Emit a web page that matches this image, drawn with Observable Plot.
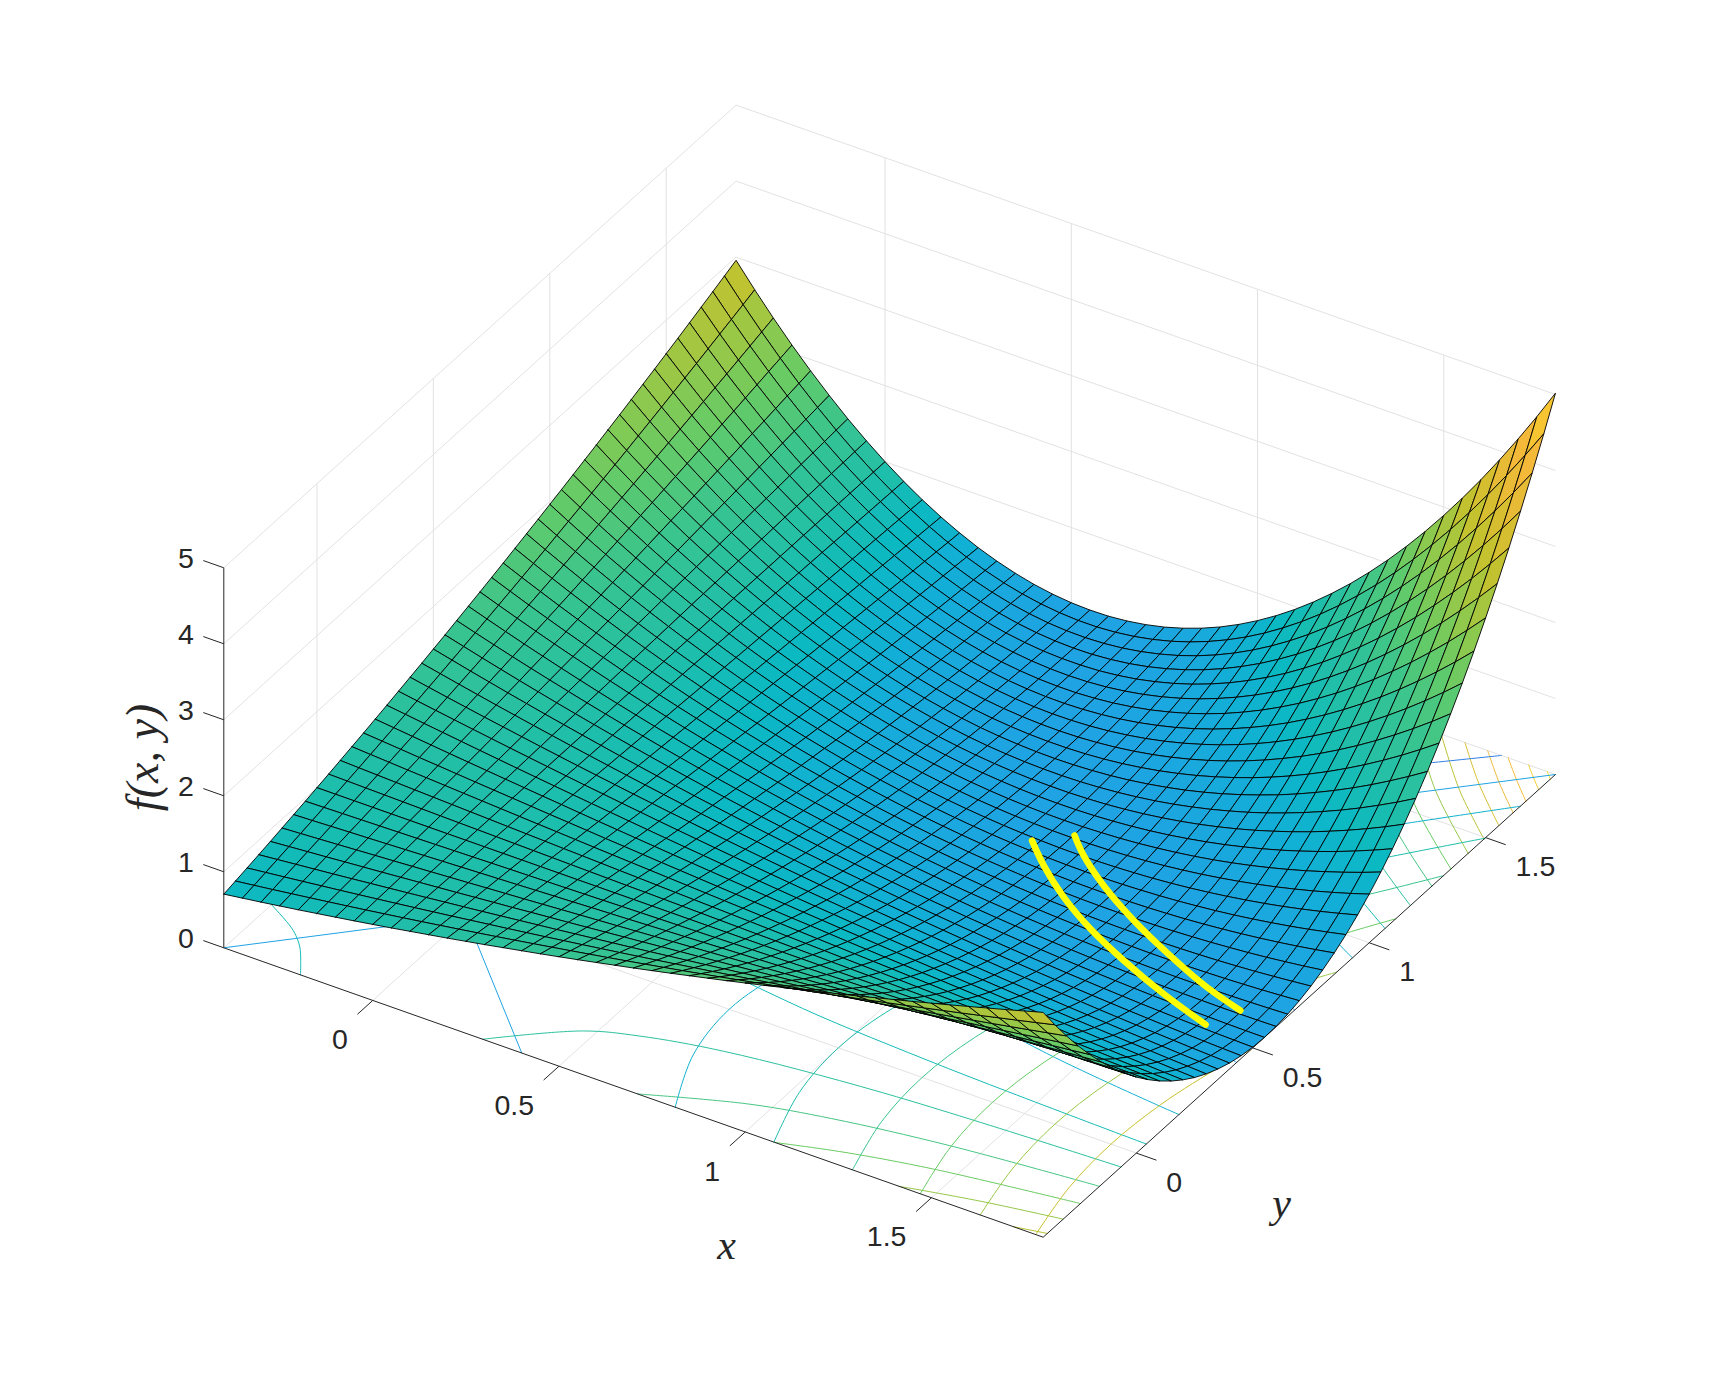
<!DOCTYPE html>
<html>
<head>
<meta charset="utf-8">
<script src="https://cdn.jsdelivr.net/npm/d3@7"></script>
<script src="https://cdn.jsdelivr.net/npm/@observablehq/plot@0.6"></script>
<style>
html,body{margin:0;padding:0;background:#fff}
svg{display:block}
</style>
</head>
<body>
<div id="chart"></div>
<script>
// The drawn surface was identified from the picture as f(x,y) = (1 - x*y)^2, x,y in [-0.4,1.8].
// Its node heights are typed below as a table worked out by hand, not computed at run time.
// Known difference: this table has a 0.05 step; the reference mesh is about twice as fine (about 0.025).
const gridValues = [-0.4,-0.35,-0.3,-0.25,-0.2,-0.15,-0.1,-0.05,0,0.05,0.1,0.15,0.2,0.25,0.3,0.35,0.4,0.45,0.5,0.55,0.6,0.65,0.7,0.75,0.8,0.85,0.9,0.95,1,1.05,1.1,1.15,1.2,1.25,1.3,1.35,1.4,1.45,1.5,1.55,1.6,1.65,1.7,1.75,1.8];
// f in thousandths; row i holds nodes j >= i, the table being symmetric in x and y
const surfaceRows = [
[706,740,774,810,846,884,922,960,1000,1040,1082,1124,1166,1210,1254,1300,1346,1392,1440,1488,1538,1588,1638,1690,1742,1796,1850,1904,1960,2016,2074,2132,2190,2250,2310,2372,2434,2496,2560,2624,2690,2756,2822,2890,2958],
[770,801,833,865,898,931,965,1000,1035,1071,1108,1145,1183,1221,1260,1300,1340,1381,1422,1464,1507,1550,1594,1638,1684,1729,1776,1823,1870,1918,1967,2016,2066,2117,2168,2220,2273,2326,2379,2434,2489,2544,2600,2657],
[828,856,884,912,941,970,1000,1030,1061,1092,1124,1156,1188,1221,1254,1288,1322,1357,1392,1428,1464,1501,1538,1575,1613,1651,1690,1729,1769,1809,1850,1891,1932,1974,2016,2059,2102,2146,2190,2235,2280,2326,2372],
[879,902,926,951,975,1000,1025,1051,1076,1102,1129,1156,1183,1210,1238,1266,1294,1322,1351,1381,1410,1440,1470,1501,1531,1562,1594,1626,1658,1690,1723,1756,1789,1822,1856,1891,1925,1960,1995,2031,2066,2102],
[922,941,960,980,1000,1020,1040,1061,1082,1102,1124,1145,1166,1188,1210,1232,1254,1277,1300,1322,1346,1369,1392,1416,1440,1464,1488,1513,1538,1562,1588,1613,1638,1664,1690,1716,1742,1769,1796,1822,1850],
[956,970,985,1000,1015,1030,1046,1061,1076,1092,1108,1124,1140,1156,1172,1188,1205,1221,1238,1254,1271,1288,1305,1322,1340,1357,1375,1392,1410,1428,1446,1464,1482,1501,1519,1538,1556,1575,1594,1613],
[980,990,1000,1010,1020,1030,1040,1051,1061,1071,1082,1092,1102,1113,1124,1134,1145,1156,1166,1177,1188,1199,1210,1221,1232,1243,1254,1266,1277,1288,1300,1311,1322,1334,1346,1357,1369,1381,1392],
[995,1000,1005,1010,1015,1020,1025,1030,1035,1040,1046,1051,1056,1061,1066,1071,1076,1082,1087,1092,1097,1102,1108,1113,1118,1124,1129,1134,1140,1145,1151,1156,1161,1166,1172,1177,1183,1188],
[1000,1000,1000,1000,1000,1000,1000,1000,1000,1000,1000,1000,1000,1000,1000,1000,1000,1000,1000,1000,1000,1000,1000,1000,1000,1000,1000,1000,1000,1000,1000,1000,1000,1000,1000,1000,1000],
[995,990,985,980,975,970,965,960,956,951,946,941,936,931,926,922,917,912,907,902,898,893,888,884,879,874,870,865,861,856,851,846,842,837,833,828],
[980,970,960,951,941,931,922,912,902,893,884,874,865,856,846,837,828,819,810,801,792,783,774,766,757,748,740,731,722,714,706,697,689,681,672],
[956,941,926,912,898,884,870,856,842,828,815,801,788,774,761,748,735,722,710,697,685,672,660,648,636,624,612,601,589,578,566,555,544,533],
[922,902,884,865,846,828,810,792,774,757,740,722,706,689,672,656,640,624,608,593,578,562,548,533,518,504,490,476,462,449,436,422,410],
[879,856,833,810,788,766,744,722,701,681,660,640,620,601,581,562,544,526,508,490,473,456,439,422,406,391,375,360,345,331,316,302],
[828,801,774,748,722,697,672,648,624,601,578,555,533,511,490,469,449,429,410,391,372,354,336,319,302,286,270,255,240,226,212],
[770,740,710,681,652,624,597,570,544,518,494,469,446,422,400,378,357,336,316,297,278,260,243,226,209,194,179,164,150,137],
[706,672,640,608,578,548,518,490,462,436,410,384,360,336,314,292,270,250,230,212,194,176,160,144,130,116,102,90,78],
[636,601,566,533,501,469,439,410,381,354,328,302,278,255,233,212,191,172,154,137,121,106,92,78,66,55,45,36],
[562,526,490,456,422,391,360,331,302,276,250,226,202,181,160,141,122,106,90,76,62,51,40,31,22,16,10],
[487,449,413,378,345,314,284,255,228,202,179,156,135,116,98,81,66,53,41,31,22,14,9,4,1,0],
[410,372,336,302,270,240,212,185,160,137,116,96,78,62,48,36,26,17,10,5,2,0,0,2,6],
[334,297,263,230,200,172,146,122,101,81,64,48,35,24,15,8,3,1,0,2,5,11,19,29],
[260,226,194,164,137,112,90,70,53,38,26,16,8,3,0,0,2,7,14,24,36,51,68],
[191,160,131,106,83,62,45,31,19,10,4,1,0,2,8,16,26,40,56,76,98,122],
[130,102,78,58,40,26,14,6,2,0,2,6,14,26,40,58,78,102,130,160,194],
[77,55,37,22,12,4,1,0,4,11,22,36,54,76,101,130,162,198,238,281],
[36,21,10,3,0,1,6,16,29,46,68,93,122,156,194,235,281,331,384],
[10,2,0,2,9,20,35,55,80,109,143,181,223,270,322,378,439,504],
[0,2,10,22,40,62,90,122,160,202,250,302,360,422,490,562,640],
[11,24,43,68,98,133,174,221,273,331,394,462,537,616,701,792],
[44,70,102,141,185,235,292,354,422,497,578,664,757,856,960],
[104,144,191,245,305,372,446,526,612,706,806,912,1025,1145],
[194,250,314,384,462,548,640,740,846,960,1082,1210,1346],
[316,391,473,562,660,766,879,1000,1129,1266,1410,1562],
[476,570,672,783,902,1030,1166,1311,1464,1626,1796],
[677,792,917,1051,1194,1346,1507,1677,1856,2045],
[922,1061,1210,1369,1538,1716,1904,2102,2310],
[1216,1381,1556,1742,1939,2146,2364,2592],
[1562,1756,1960,2176,2402,2641,2890],
[1967,2190,2426,2673,2933,3204],
[2434,2690,2958,3240,3534],
[2967,3258,3563,3881],
[3572,3901,4244],
[4254,4622],
[5018]
];

const xTicks = [0, 0.5, 1, 1.5];
const yTicks = [0, 0.5, 1, 1.5];
const zTicks = [0, 1, 2, 3, 4, 5];
const xLimits = [-0.4, 1.8];
const yLimits = [-0.4, 1.8];

// floor contours: [level, [x,y], [x,y], ...]
const contoursOfProduct = [
[0.85,[-0.194,-0.4],[-0.25,-0.312],[-0.279,-0.279],[-0.312,-0.25],[-0.4,-0.195]],
[1.25,[0.295,-0.4],[0.472,-0.25],[0.59,-0.2],[0.787,-0.15],[1.18,-0.1],[1.8,-0.066]],
[1.65,[0.711,-0.4],[0.948,-0.3],[1.138,-0.25],[1.423,-0.2],[1.8,-0.158]],
[2.05,[1.08,-0.4],[1.234,-0.35],[1.44,-0.3],[1.8,-0.24]],
[2.45,[1.4125,-0.4],[1.6,-0.353],[1.8,-0.314]],
[2.85,[1.72,-0.4],[1.8,-0.382]],
[0.85,[1.8,0.043],[1.2,0.065],[0.8,0.0975],[0.5,0.156],[0.3,0.26]],
[0.45,[1.8,0.183],[1.4,0.235],[1,0.329],[0.8,0.411],[0.6,0.548]],
[0.05,[1.8,0.431],[1.6,0.485],[1.4,0.554],[1.2,0.647]],
[0.05,[1.8,0.68],[1.6,0.765],[1.4,0.874],[1.2,1.02]],
[0.45,[1.8,0.928],[1.6,1.044],[1.4,1.194],[1.2,1.393]],
[0.85,[1.8,1.068],[1.6,1.201],[1.4,1.373],[1.2,1.602],[1.068,1.8]],
[1.25,[1.8,1.177],[1.6,1.324],[1.4,1.513],[1.177,1.8]],
[1.65,[1.8,1.269],[1.6,1.428],[1.4,1.632],[1.269,1.8]],
[2.05,[1.8,1.351],[1.6,1.52],[1.45,1.677],[1.351,1.8]],
[2.45,[1.8,1.425],[1.6,1.603],[1.425,1.8]],
[2.85,[1.8,1.493],[1.65,1.629],[1.493,1.8]],
[3.25,[1.8,1.557],[1.67,1.678],[1.557,1.8]],
[3.65,[1.8,1.618],[1.707,1.706],[1.618,1.8]],
[4.05,[1.8,1.673],[1.735,1.736],[1.673,1.8]],
[4.45,[1.8,1.728],[1.763,1.764],[1.728,1.8]],
[4.85,[1.8,1.778],[1.789,1.789],[1.778,1.8]]
];
const contoursOfDifference = [
[0,[-0.4,-0.4],[1.8,1.8]],
[0,[0.4,-0.4],[-0.4,0.4]],
[-0.5,[1.655,1.8],[1.4,1.568],[1.2,1.393]],
[0.5,[0.812,-0.4],[0.735,-0.2],[0.707,0],[0.735,0.2],[0.812,0.4],[0.927,0.6],[1.068,0.8],[1.225,1],[1.393,1.2],[1.568,1.4],[1.8,1.649]],
[1,[1.077,-0.4],[1.02,-0.2],[1,0],[1.02,0.2],[1.077,0.4],[1.166,0.6],[1.281,0.8],[1.414,1],[1.562,1.2],[1.8,1.497]],
[1.5,[1.288,-0.4],[1.241,-0.2],[1.225,0],[1.241,0.2],[1.288,0.4],[1.36,0.6],[1.453,0.8],[1.581,1],[1.72,1.2],[1.8,1.319]],
[2,[1.47,-0.4],[1.428,-0.2],[1.414,0],[1.428,0.2],[1.47,0.4],[1.536,0.6],[1.625,0.8],[1.732,1],[1.8,1.114]],
[2.5,[1.631,-0.4],[1.594,-0.2],[1.581,0],[1.594,0.2],[1.631,0.4],[1.691,0.6],[1.766,0.8],[1.8,0.86]],
[3,[1.78,-0.4],[1.744,-0.2],[1.732,0],[1.744,0.2],[1.778,0.4],[1.8,0.49]]
];

// the two yellow curves
const yellowCurveA = [[0.931,0.942],[1.007,0.871],[1.113,0.787],[1.232,0.711],[1.364,0.643],[1.513,0.577],[1.659,0.523]];
const yellowCurveB = [[1.002,1.011],[1.063,0.953],[1.165,0.875],[1.298,0.792],[1.457,0.709],[1.582,0.652],[1.696,0.613]];

const colorStops = [-0.5, 0, 0.4, 0.7, 1.0, 1.5, 2.0, 2.5, 3.0, 3.5, 4.0, 4.5, 5.02];
const colorValues = ["#2f7fe6","#1fa3e3","#12afd6","#0bb9c2","#1ebeac","#39c48f","#66cb66","#9ac846","#c8c12d","#e6bb35","#f9b93a","#f5d02a","#f8ec1c"];

// orthographic view of the axes box (page pixels per data unit)
const originU = 223.3, originV = 947.3;
const uPerX = 372.45, uPerY = 232.86, vPerX = 131.55, vPerY = -210.32, vPerZ = -76;
const U = (x, y) => originU + uPerX * (x - xLimits[0]) + uPerY * (y - yLimits[0]);
const V = (x, y, z) => originV + vPerX * (x - xLimits[0]) + vPerY * (y - yLimits[0]) + vPerZ * z;
const nodeZ = (i, j) => (i <= j ? surfaceRows[i][j - i] : surfaceRows[j][i - j]) / 1000;

// surface cells, back to front: x ascending, y descending
const n = gridValues.length;
const cellPoints = [];
let cellId = 0;
for (let i = 0; i < n - 1; i++) {
  for (let j = n - 2; j >= 0; j--) {
    const corners = [[i, j], [i + 1, j], [i + 1, j + 1], [i, j + 1], [i, j]];
    const value = nodeZ(i, j);
    for (const [a, b] of corners) {
      const gx = gridValues[a], gy = gridValues[b], gz = nodeZ(a, b);
      cellPoints.push({id: cellId, u: U(gx, gy), v: V(gx, gy, gz), value});
    }
    cellId++;
  }
}

const toFloorLine = (rows) => rows.flatMap(([level, ...pts], k) =>
  pts.map(([x, y]) => ({id: k, level, u: U(x, y), v: V(x, y, 0)})));
const productLines = toFloorLine(contoursOfProduct);
const differenceLines = toFloorLine(contoursOfDifference);

const [x0, x1] = xLimits, [y0, y1] = yLimits;
const seg = (a, b) => ({u1: U(a[0], a[1]), v1: V(a[0], a[1], a[2]), u2: U(b[0], b[1]), v2: V(b[0], b[1], b[2])});
const zTop = zTicks[zTicks.length - 1];
const gridSegments = [
  ...xTicks.map(t => seg([t, y0, 0], [t, y1, 0])),
  ...xTicks.map(t => seg([t, y1, 0], [t, y1, zTop])),
  ...yTicks.map(t => seg([x0, t, 0], [x1, t, 0])),
  ...yTicks.map(t => seg([x0, t, 0], [x0, t, zTop])),
  ...zTicks.map(t => seg([x0, y0, t], [x0, y1, t])),
  ...zTicks.map(t => seg([x0, y1, t], [x1, y1, t]))
];
const axisSegments = [
  seg([x0, y0, 0], [x1, y0, 0]),
  seg([x1, y0, 0], [x1, y1, 0]),
  seg([x0, y0, 0], [x0, y0, zTop]),
  ...xTicks.map(t => seg([t, y0, 0], [t, y0 - 0.066, 0])),
  ...yTicks.map(t => seg([x1, t, 0], [x1 + 0.054, t, 0])),
  ...zTicks.map(t => seg([x0, y0, t], [x0 - 0.055, y0, t]))
];

const xLabels = xTicks.map(t => ({t: String(t), u: U(t, y0) - 25, v: V(t, y0, 0) + 39.5}));
const yLabels = yTicks.map(t => ({t: String(t), u: U(x1, t) + 30, v: V(x1, t, 0) + 29.6}));
const zLabels = zTicks.map(t => ({t: String(t), u: U(x0, y0) - 30, v: V(x0, y0, t) - 9.3}));

const yellowPoints = (pts, id) => pts.map(([x, y]) => ({id, u: U(x, y), v: V(x, y, 0)}));
const yellowLines = [...yellowPoints(yellowCurveA, 0), ...yellowPoints(yellowCurveB, 1)];

const tickFont = {fontFamily: "Liberation Sans, Arial, sans-serif", fontSize: 28.5, fill: "#262626"};
const mathFont = {fontFamily: "Liberation Serif, serif", fontStyle: "italic", fill: "#262626"};
const segment = (data, o) => Plot.link(data, {x1: "u1", y1: "v1", x2: "u2", y2: "v2", ...o});

const chart = Plot.plot({
  width: 1718,
  height: 1390,
  margin: 0,
  style: {background: "#fff"},
  x: {axis: null, domain: [0, 1718], range: [0, 1718]},
  y: {axis: null, domain: [0, 1390], range: [0, 1390]},
  color: {type: "linear", domain: colorStops, range: colorValues, clamp: true},
  marks: [
    segment(gridSegments, {stroke: "#e2e2e2", strokeWidth: 1}),
    Plot.line(productLines, {x: "u", y: "v", z: "id", stroke: "level", strokeWidth: 1, curve: "catmull-rom"}),
    Plot.line(differenceLines, {x: "u", y: "v", z: "id", stroke: "level", strokeWidth: 1, curve: "catmull-rom"}),
    segment(axisSegments, {stroke: "#262626", strokeWidth: 1}),
    Plot.line(cellPoints, {x: "u", y: "v", z: "id", fill: "value", stroke: "#000", strokeWidth: 0.9, strokeLinejoin: "round"}),
    Plot.line(yellowLines, {x: "u", y: "v", z: "id", stroke: "#ffff00", strokeWidth: 6.5, strokeLinecap: "round", curve: "catmull-rom"}),
    Plot.text(xLabels, {x: "u", y: "v", text: "t", textAnchor: "end", ...tickFont}),
    Plot.text(yLabels, {x: "u", y: "v", text: "t", textAnchor: "start", ...tickFont}),
    Plot.text(zLabels, {x: "u", y: "v", text: "t", textAnchor: "end", ...tickFont}),
    Plot.text([{t: "x", u: 726, v: 1245}], {x: "u", y: "v", text: "t", fontSize: 42, ...mathFont}),
    Plot.text([{t: "y", u: 1281, v: 1203}], {x: "u", y: "v", text: "t", fontSize: 42, ...mathFont}),
    Plot.text([{t: "f(x, y)", u: 143, v: 757}], {x: "u", y: "v", text: "t", fontSize: 46, rotate: -90, ...mathFont})
  ]
});
document.getElementById("chart").appendChild(chart);
</script>
</body>
</html>
